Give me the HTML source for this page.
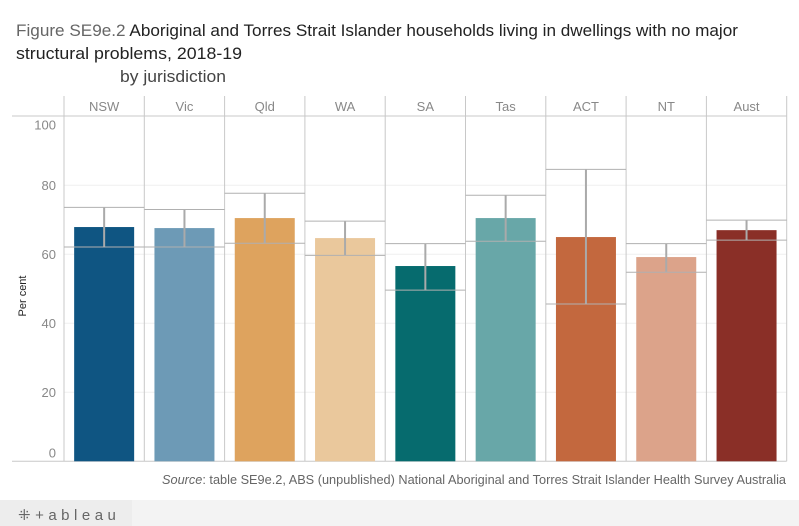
<!DOCTYPE html>
<html><head><meta charset="utf-8"><style>
body{margin:0;background:#fff;}
svg{display:block;font-family:"Liberation Sans",sans-serif;}
</style></head><body>
<svg id="chart" width="799" height="526" viewBox="0 0 799 526">
<text x="16" y="36" font-size="17" fill="#222" textLength="722" lengthAdjust="spacingAndGlyphs"><tspan fill="#666">Figure SE9e.2 </tspan> Aboriginal and Torres Strait Islander households living in dwellings with no major</text>
<text x="16" y="59" font-size="17" fill="#222" textLength="226" lengthAdjust="spacingAndGlyphs">structural problems, 2018-19</text>
<text x="120" y="82" font-size="17" fill="#444" textLength="106" lengthAdjust="spacingAndGlyphs">by jurisdiction</text>
<g id="grid"></g>
<g id="marks"></g>
<text transform="translate(26,296) rotate(-90)" text-anchor="middle" font-size="11" fill="#222">Per cent</text>
<text x="786" y="484" text-anchor="end" font-size="12.5" fill="#666" textLength="624" lengthAdjust="spacingAndGlyphs"><tspan font-style="italic">Source</tspan>: table SE9e.2, ABS (unpublished) National Aboriginal and Torres Strait Islander Health Survey Australia</text>
<rect x="0" y="500" width="799" height="26" fill="#f3f3f3"/>
<rect x="0" y="500" width="132" height="26" fill="#ededed"/>
<text x="18" y="520" font-size="15" fill="#666" letter-spacing="4.5">⁜+ableau</text>
</svg>
<script>
const categories=["NSW","Vic","Qld","WA","SA","Tas","ACT","NT","Aust"];
const values=[67.9,67.6,70.5,64.7,56.6,70.5,65.0,59.2,67.0];
const upper=[73.6,73.0,77.7,69.6,63.1,77.1,84.6,63.1,69.9];
const lower=[62.1,62.1,63.2,59.7,49.6,63.8,45.6,54.8,64.1];
const colors=["#0f5582","#6d9ab6","#dea35e","#eac89c","#066b6e","#68a7a8","#c3683e","#dca38a","#8a2f27"];
const yTicks=[0,20,40,60,80,100];
const NS="http://www.w3.org/2000/svg";
const x0=64,pw=80.3,yBase=461.3,yPer=3.45,topY=116,hdrY=96;
const y=v=>yBase-v*yPer;
const px=i=>x0+i*pw;
function mk(tag,at,parent){const e=document.createElementNS(NS,tag);for(const k in at)e.setAttribute(k,at[k]);parent.appendChild(e);return e;}
const grid=document.getElementById('grid'),marks=document.getElementById('marks');
yTicks.forEach(t=>{
  if(t>0&&t<100){const l=mk('line',{x1:x0,x2:px(categories.length),y1:y(t),y2:y(t),stroke:'#efefef','stroke-width':1},grid);
  
  }
  let ly=y(t)+4.5; if(t===0) ly=y(t)-4; if(t===100) ly=y(t)+13;
  const tx=mk('text',{x:56,y:ly,'text-anchor':'end','font-size':13,fill:'#888'},grid);
  tx.textContent=t;
  
  
});
mk('line',{x1:12,x2:px(9),y1:topY,y2:topY,stroke:'#c8c8c8'},grid);
mk('line',{x1:12,x2:px(9),y1:yBase,y2:yBase,stroke:'#c8c8c8'},grid);
for(let i=0;i<=categories.length;i++){mk('line',{x1:px(i),x2:px(i),y1:hdrY,y2:yBase,stroke:'#c8c8c8'},grid);}
categories.forEach((c,i)=>{
  const cx=px(i)+pw/2;
  const h=mk('text',{x:cx,y:111,'text-anchor':'middle','font-size':13,fill:'#888'},grid);
  h.textContent=c;
  
  
  const b=mk('rect',{x:cx-30,y:y(values[i]),width:60,height:yBase-y(values[i]),fill:colors[i]},marks);
  
  
  const e1=mk('line',{x1:cx,x2:cx,y1:y(upper[i]),y2:y(lower[i]),stroke:'#aaa','stroke-width':2},marks);
  
  
  [upper[i],lower[i]].forEach(v=>{mk('line',{x1:px(i),x2:px(i+1),y1:y(v),y2:y(v),stroke:'#b0b0b0','stroke-width':1},marks);});
});
</script>
</body></html>
